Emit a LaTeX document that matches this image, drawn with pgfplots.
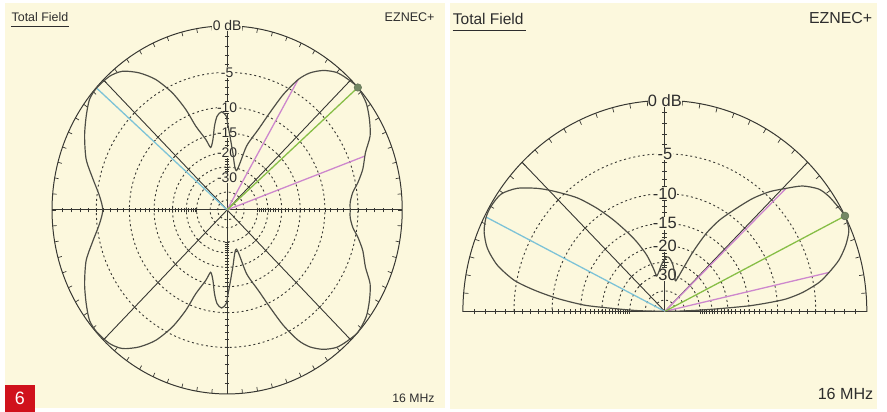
\documentclass[border=0pt]{standalone}
\usepackage{pgfplots}
\pgfplotsset{compat=1.18}
\usepackage{pgfplotstable}
\usepackage{fontspec}
\setmainfont{Liberation Sans}
\definecolor{bg}{RGB}{252,248,221}
\definecolor{pat}{RGB}{78,78,70}
\definecolor{gridc}{RGB}{55,55,50}
\definecolor{txt}{RGB}{45,45,45}
\definecolor{cyanl}{RGB}{125,195,215}
\definecolor{greenl}{RGB}{135,190,70}
\definecolor{magl}{RGB}{205,135,205}
\definecolor{dotc}{RGB}{115,135,100}
\definecolor{redbox}{RGB}{208,18,28}

% azimuth pattern (angle in degrees, relative field in dB)
\pgfplotstableread{
ang dB
0 -6.05
3.4 -6.02
7.6 -5.54
11.3 -4.67
16 -3.70
21.5 -2.81
26.2 -1.62
31.2 -0.88
36.2 -0.28
41.7 0
46.5 -0.21
50.2 -0.47
54.1 -1.15
57.6 -2.17
60.2 -3.49
62.9 -6.02
65.2 -9.29
67.8 -12.85
72.2 -17.30
76 -25.99
84.1 -19.88
87.1 -16.43
89.3 -13.48
90.6 -11.56
93.4 -10.77
96.4 -11.46
99 -13.29
101.9 -16.07
105.5 -17.92
107.7 -15.60
111.5 -12.24
113.4 -8.91
116.2 -5.90
119.9 -3.47
124 -1.85
128.4 -0.68
132.8 -0.19
138.4 -0.05
142.6 -0.19
147.6 -0.83
153.7 -1.66
161.1 -2.77
167.6 -4.16
174 -5.33
180 -5.88
186 -5.33
192.4 -4.16
198.9 -2.77
206.3 -1.66
212.4 -0.83
217.4 -0.19
221.6 -0.05
227.2 -0.19
231.6 -0.68
236 -1.85
240.1 -3.47
243.8 -5.90
246.6 -8.91
248.5 -12.24
252.3 -15.60
254.5 -17.92
258.1 -16.07
261 -13.29
263.6 -11.46
266.6 -10.77
269.4 -11.56
270.7 -13.48
272.9 -16.43
275.9 -19.88
284 -25.99
287.8 -17.30
292.2 -12.85
294.8 -9.29
297.1 -6.02
299.8 -3.49
302.4 -2.17
305.9 -1.15
309.8 -0.47
313.5 -0.21
318.3 0
323.8 -0.28
328.8 -0.88
333.8 -1.62
338.5 -2.81
344 -3.70
348.7 -4.67
352.4 -5.54
356.6 -6.02
360 -6.05
}\leftpat

% elevation pattern
\pgfplotstableread{
ang dB
0 -99
1 -45
2 -30
2.8 -22
3.6 -15
4.6 -11.3
5.6 -8.68
7.5 -6.42
10.2 -4.35
12.8 -3.12
15.8 -1.88
19.3 -0.90
22.9 -0.19
26.9 0
31 -0.22
34.1 -0.40
37.3 -0.75
41.1 -1.73
44.2 -3.07
47.6 -4.53
50.9 -6.37
54.1 -8.71
58 -11.56
61 -14.77
63.7 -19.77
66 -25.76
69.5 -32
73 -30.5
77 -27.5
81 -25.0
85 -23.5
88 -23.2
91 -24.2
95 -26.2
99 -28.5
103.6 -30.0
105.6 -26.62
108.6 -21.73
112.9 -17.63
116.5 -14.81
120.4 -11.83
124.5 -8.97
128.9 -6.32
134 -4.00
137.3 -2.59
141.4 -1.15
145.5 -0.30
149.7 -0.10
153.2 -0.15
157.1 -0.50
161.2 -1.28
165.2 -2.63
168.8 -4.69
171.1 -7.24
173.4 -10.67
175.7 -15.6
176.6 -21
177.6 -28
178.6 -36
180 -99
}\rightpat

\pgfplotsset{
  table/polardb/.style={
    x expr={exp(0.058265*\thisrow{dB})*cos(\thisrow{ang})},
    y expr={exp(0.058265*\thisrow{dB})*sin(\thisrow{ang})}},
  patstyle/.style={pat, line width=1.2pt, smooth, tension=0.45, no marks},
  ray/.style={line width=1.3pt, no marks},
}
\tikzset{
  ring/.style={gridc, line width=0.9pt, dash pattern=on 2pt off 2.8pt},
  gl/.style={gridc, line width=0.9pt},
}

\begin{document}
\begin{tikzpicture}
\fill[white] (0pt,0pt) rectangle (887pt,414pt);
\fill[bg] (5pt,4pt) rectangle (447pt,411pt);
\fill[bg] (452pt,3pt) rectangle (882pt,411pt);

% ---------------- left panel grid ----------------
\begin{scope}[shift={(228.3pt,203pt)}, x=176pt, y=185pt]
  \foreach \d in {5,10,15,20,25,30,40,50}{
    \pgfmathsetmacro\r{0.89^(\d/2)}
    \draw[ring] (0,0) circle[radius=\r];
  }
  \draw[gridc, line width=1pt] (0,0) circle[radius=1];
  \foreach \a in {0,5,...,355}{\draw[gl, line width=0.7pt] (\a:1) -- (\a:0.977);}
  \draw[gl] (-1,0) -- (1,0);
  \draw[gl] (0,-1) -- (0,1);
  \draw[gl] (45:1) -- (225:1);
  \draw[gl] (135:1) -- (315:1);
  \foreach \k in {1,...,30}{
    \pgfmathsetmacro\r{0.89^(\k/2)}
    \draw[gl, line width=0.6pt] (\r,-0.013) -- (\r,0.013);
    \draw[gl, line width=0.6pt] (-\r,-0.013) -- (-\r,0.013);
    \draw[gl, line width=0.6pt] (-0.013,\r) -- (0.013,\r);
    \draw[gl, line width=0.6pt] (-0.013,-\r) -- (0.013,-\r);
  }
  \foreach \k in {5,10,...,30}{
    \pgfmathsetmacro\r{0.89^(\k/2)}
    \foreach \b in {45,135,225,315}{
      \draw[gl, line width=0.6pt, shift={(\b:\r)}] (\b+90:0.014) -- (\b-90:0.014);
    }
  }
  \begin{scope}[every node/.style={fill=bg, inner sep=0.4pt, text=txt, font=\fontsize{14}{14}\selectfont}]
    \node at (0,1) {0 dB};
    \node at (0,0.747) {-5};
    \node at (0,0.558) {-10};
    \node at (0,0.417) {-15};
    \node at (0,0.312) {-20};
    \node at (0,0.174) {-30};
  \end{scope}
\end{scope}

% ---------------- right panel grid ----------------
\begin{scope}[shift={(668.3pt,101pt)}, x=203pt, y=212pt]
  \begin{scope}
    \clip (-1.1,0) rectangle (1.1,1.1);
    \foreach \d in {5,10,15,20,25,30,40,50}{
      \pgfmathsetmacro\r{0.89^(\d/2)}
      \draw[ring] (0,0) circle[radius=\r];
    }
    \draw[gridc, line width=1pt] (0,0) circle[radius=1];
  \end{scope}
  \foreach \a in {5,10,...,175}{\draw[gl, line width=0.7pt] (\a:1) -- (\a:0.977);}
  \draw[gl] (-1,0) -- (1,0);
  \draw[gl] (0,0) -- (0,1);
  \draw[gl] (0,0) -- (45:1);
  \draw[gl] (0,0) -- (135:1);
  \foreach \k in {1,...,30}{
    \pgfmathsetmacro\r{0.89^(\k/2)}
    \draw[gl, line width=0.6pt] (\r,-0.013) -- (\r,0.013);
    \draw[gl, line width=0.6pt] (-\r,-0.013) -- (-\r,0.013);
    \draw[gl, line width=0.6pt] (-0.013,\r) -- (0.013,\r);
  }
  \foreach \k in {5,10,...,30}{
    \pgfmathsetmacro\r{0.89^(\k/2)}
    \foreach \b in {45,135}{
      \draw[gl, line width=0.6pt, shift={(\b:\r)}] (\b+90:0.013) -- (\b-90:0.013);
    }
  }
  \begin{scope}[every node/.style={fill=bg, inner sep=0.4pt, text=txt, font=\fontsize{16.5}{16.5}\selectfont}]
    \node at (0,1) {0 dB};
    \node at (0,0.747) {-5};
    \node at (0,0.558) {-10};
    \node at (0,0.417) {-15};
    \node at (0,0.312) {-20};
    \node at (0,0.174) {-30};
  \end{scope}
\end{scope}

% ---------------- left data ----------------
\begin{axis}[at={(52.3pt,18pt)}, anchor=south west, scale only axis,
  width=352pt, height=370pt, xmin=-1, xmax=1, ymin=-1, ymax=1,
  hide axis, clip=false]
  \addplot[ray, cyanl] table[row sep=\\, polardb] {ang dB\\ 138.4 -200\\ 138.4 -0.05\\};
  \addplot[ray, magl] table[row sep=\\, polardb] {ang dB\\ 60.2 -200\\ 60.2 -3.49\\};
  \addplot[ray, magl] table[row sep=\\, polardb] {ang dB\\ 20.4 -200\\ 20.4 -3.1\\};
  \addplot[ray, greenl] table[row sep=\\, polardb] {ang dB\\ 41.7 -200\\ 41.7 0\\};
  \addplot[patstyle] table[polardb] {\leftpat};
  \addplot[only marks, mark=*, mark size=3.8pt, draw=dotc!80!black, fill=dotc] table[row sep=\\, polardb] {ang dB\\ 41.7 0\\};
\end{axis}

% ---------------- right data ----------------
\begin{axis}[at={(465.3pt,101pt)}, anchor=south west, scale only axis,
  width=406pt, height=212pt, xmin=-1, xmax=1, ymin=0, ymax=1,
  hide axis, clip=false]
  \addplot[ray, cyanl] table[row sep=\\, polardb] {ang dB\\ 153.2 -200\\ 153.2 -0.15\\};
  \addplot[ray, magl] table[row sep=\\, polardb] {ang dB\\ 44.2 -200\\ 44.2 -3.07\\};
  \addplot[ray, magl] table[row sep=\\, polardb] {ang dB\\ 12.8 -200\\ 12.8 -3.12\\};
  \addplot[ray, greenl] table[row sep=\\, polardb] {ang dB\\ 26.9 -200\\ 26.9 0\\};
  \addplot[patstyle] table[polardb] {\rightpat};
  \addplot[only marks, mark=*, mark size=4pt, draw=dotc!80!black, fill=dotc] table[row sep=\\, polardb] {ang dB\\ 26.9 0\\};
\end{axis}

% ---------------- texts ----------------
\begin{scope}[every node/.style={inner sep=0pt, text=txt}]
  \node[anchor=base west, font=\fontsize{12.5}{13}\selectfont] at (11.5pt,392.3pt) {Total Field};
  \node[anchor=base east, font=\fontsize{12.6}{13}\selectfont] at (437pt,392.3pt) {EZNEC+};
  \node[anchor=base east, font=\fontsize{12.3}{13}\selectfont] at (437pt,9pt) {16 MHz};
  \node[anchor=base west, font=\fontsize{15.6}{16}\selectfont] at (455pt,389pt) {Total Field};
  \node[anchor=base east, font=\fontsize{16}{16}\selectfont] at (877pt,390pt) {EZNEC+};
  \node[anchor=base east, font=\fontsize{16.2}{16}\selectfont] at (878pt,12.3pt) {16 MHz};
\end{scope}
\draw[txt, line width=0.8pt] (11.5pt,387.3pt) -- (69pt,387.3pt);
\draw[txt, line width=0.8pt] (455pt,383.3pt) -- (529pt,383.3pt);

\fill[redbox] (5pt,0pt) rectangle (35pt,27pt);
\node[text=white, font=\fontsize{18}{18}\selectfont] at (20pt,13.5pt) {6};
\end{tikzpicture}
\end{document}
